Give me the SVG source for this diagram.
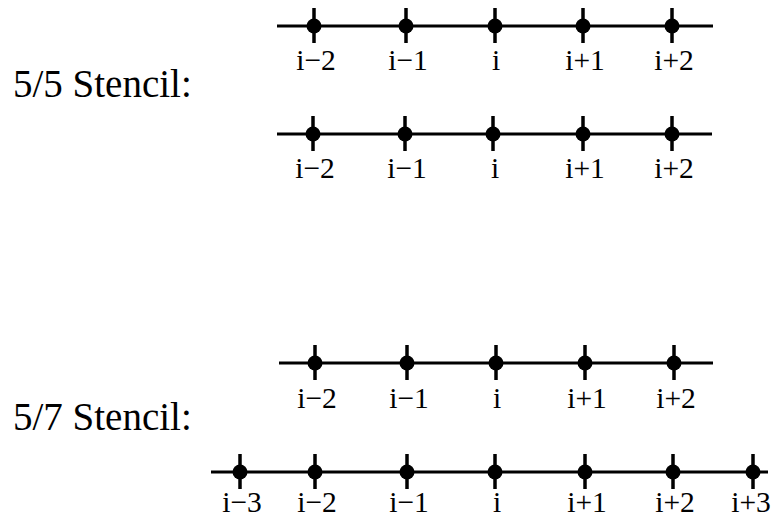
<svg xmlns="http://www.w3.org/2000/svg" width="773" height="517" viewBox="0 0 773 517">
<style>
.ln{stroke:#000;stroke-width:3;fill:none}
.tk{stroke:#000;stroke-width:3.5}
.dt{fill:#000}
.lb{font-family:"Liberation Serif","Times New Roman",serif;font-size:29.5px;text-anchor:middle;fill:#000}
.tt{font-family:"Liberation Serif","Times New Roman",serif;font-size:39px;fill:#000}
</style>
<defs>
<g id="pt"><line class="tk" x1="0" y1="-18" x2="0" y2="17"/><circle class="dt" r="7.5"/></g>
</defs>
<g id="title1"><text class="tt" x="13" y="97">5/5 Stencil:</text></g>
<g id="title2"><text class="tt" x="13" y="430">5/7 Stencil:</text></g>
<g id="connectors">
<line class="ln" x1="277" y1="26" x2="713" y2="26"/>
<line class="ln" x1="277" y1="134" x2="712" y2="134"/>
<line class="ln" x1="279" y1="363" x2="713" y2="363"/>
<line class="ln" x1="211" y1="472" x2="768" y2="472"/>
</g>
<g id="row1">
<use href="#pt" x="314" y="26"/><use href="#pt" x="406" y="26"/><use href="#pt" x="495" y="26"/><use href="#pt" x="583" y="26"/><use href="#pt" x="672" y="26"/>
<text class="lb" x="316" y="70">i−2</text><text class="lb" x="408" y="70">i−1</text><text class="lb" x="496" y="70">i</text><text class="lb" x="585" y="70">i+1</text><text class="lb" x="674" y="70">i+2</text>
</g>
<g id="row2">
<use href="#pt" x="313" y="134"/><use href="#pt" x="405" y="134"/><use href="#pt" x="493" y="134"/><use href="#pt" x="583" y="134"/><use href="#pt" x="672" y="134"/>
<text class="lb" x="315" y="178">i−2</text><text class="lb" x="407" y="178">i−1</text><text class="lb" x="495" y="178">i</text><text class="lb" x="585" y="178">i+1</text><text class="lb" x="674" y="178">i+2</text>
</g>
<g id="row3">
<use href="#pt" x="315" y="363"/><use href="#pt" x="407" y="363"/><use href="#pt" x="496" y="363"/><use href="#pt" x="585" y="363"/><use href="#pt" x="674" y="363"/>
<text class="lb" x="317" y="408">i−2</text><text class="lb" x="409" y="408">i−1</text><text class="lb" x="497" y="408">i</text><text class="lb" x="587" y="408">i+1</text><text class="lb" x="676" y="408">i+2</text>
</g>
<g id="row4">
<use href="#pt" x="240" y="472"/><use href="#pt" x="315" y="472"/><use href="#pt" x="407" y="472"/><use href="#pt" x="495" y="472"/><use href="#pt" x="585" y="472"/><use href="#pt" x="673" y="472"/><use href="#pt" x="753" y="472"/>
<text class="lb" x="242" y="512">i−3</text><text class="lb" x="317" y="512">i−2</text><text class="lb" x="409" y="512">i−1</text><text class="lb" x="497" y="512">i</text><text class="lb" x="587" y="512">i+1</text><text class="lb" x="675" y="512">i+2</text><text class="lb" x="751" y="512">i+3</text>
</g>
</svg>
